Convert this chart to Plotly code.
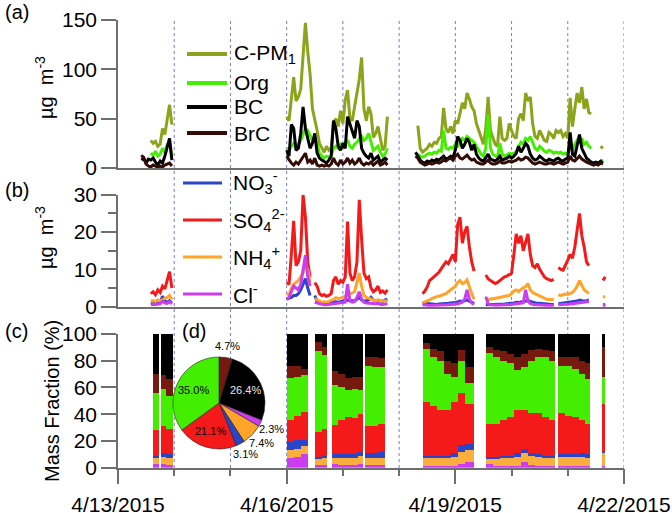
import math
import pandas as pd
import plotly.graph_objects as go

# ---------------- data ----------------
T0 = pd.Timestamp("2015-04-13")
DAYS_TOTAL = 9

# panel (a): hourly values, segments start at these hours after 4/13 00:00
A_SEG_START = [10, 72, 127]
CPM1 = [
    [None, None, None, None, 28, 25, 27, 22, 24, 40, 34, 50, 64, 44],
    [52, 48, 70, 92, 68, 72, 80, 110, 147, 118, 95, 60, 50, 38, 25, 20, 16, 22, 18, 20,
     46, 50, 42, 58, 45, 69, 79, 50, 48, 62, 76, 90, 112, 60, 48, 62, 55, 31, 35, 42,
     30, 18, 22, 52],
    [None, 43, 20, 16, 18, 20, 24, 22, 26, 25, 30, 32, 61, 40, 36, 42, 35, 48, 45, 55, 66,
     60, 76, 70, 62, 58, 45, 38, 30, 24, 40, 72, 38, 30, 24, 22, 52, 30, 28, 30, 45,
     38, 32, 30, 50, 55, 48, 76, 68, 72, 45, 32, 30, 38, 32, 28, 27, 36, 34, 30, 38,
     36, 38, 32, 35, 30, 71, 42, 60, 76, 66, 82, 60, 70, 56, 55, None, None, None, 20, 22],
]
ORG = [
    [None, None, None, None, 15, 13, 17, 12, 14, 20, 16, 24, 25, 12],
    [20, 18, 22, 25, 22, 24, 28, 35, 40, 38, 32, 28, 30, 25, 15, 12, 10, 12, 11, 12,
     20, 22, 20, 24, 20, 25, 28, 22, 20, 24, 26, 30, 32, 28, 30, 35, 26, 18, 20, 22,
     16, 12, 14, 20],
    [None, 14, 12, 11, 12, 14, 15, 14, 16, 15, 18, 17, 38, 20, 19, 21, 20, 24, 22, 26, 30,
     28, 32, 30, 28, 26, 22, 18, 14, 12, 20, 54, 20, 14, 12, 11, 25, 14, 12, 13, 15,
     14, 15, 16, 22, 26, 24, 30, 28, 32, 26, 20, 18, 22, 20, 17, 16, 18, 17, 15, 16,
     15, 16, 14, 15, 14, 22, 18, 24, 28, 26, 30, 24, 26, 22, 20, None, None, None, 8, 7],
]
BC = [
    [8, 10, 5, 9, 8, 10, 6, 3, 7, 5, 12, 22, 30, 8],
    [18, 12, 44, 40, 18, 20, 35, 62, 40, 30, 20, 25, 35, 15, 10, 8, 6, 5, 8, 12,
     48, 40, 22, 18, 25, 20, 52, 45, 38, 30, 48, 42, 20, 15, 12, 10, 15, 8, 10, 12,
     6, 8, 10, 8],
    [16, 12, 8, 6, 5, 7, 6, 8, 7, 9, 8, 10, 12, 9, 10, 12, 11, 18, 32, 28,
     20, 24, 30, 26, 18, 24, 14, 10, 8, 7, 10, 14, 9, 8, 7, 9, 12, 8, 9, 10,
     12, 10, 12, 15, 22, 16, 20, 25, 22, 14, 10, 8, 9, 12, 10, 8, 7, 9, 8, 7,
     9, 10, 8, 7, 9, 10, 36, 14, 12, 22, 34, 20, 14, 10, 8, 6, 5, 6, 5, 7, 5],
]
BRC = [
    [13, 10, 4, 2, 1, 3, 2, 1, 2, 1, 3, 4, 5, 2],
    [12, 8, 5, 3, 6, 4, 8, 12, 15, 6, 8, 4, 10, 3, 2, 3, 2, 3, 2, 4,
     10, 5, 3, 8, 4, 6, 10, 5, 8, 4, 6, 10, 5, 3, 5, 4, 6, 3, 5, 7,
     3, 4, 6, 3],
    [12, 10, 6, 4, 3, 4, 5, 4, 5, 6, 5, 6, 8, 7, 9, 10, 8, 12, 14, 10,
     9, 11, 13, 10, 8, 9, 6, 5, 4, 4, 6, 8, 5, 4, 4, 5, 7, 5, 5, 6,
     7, 6, 7, 8, 10, 8, 9, 11, 10, 7, 5, 4, 5, 6, 5, 4, 4, 5, 5, 4,
     5, 6, 5, 4, 5, 6, 12, 8, 7, 10, 12, 9, 7, 6, 5, 4, 3, 4, 3, 5, 4],
]

# panel (b)
B_SEG_START = [14, 72, 130]
NO3 = [
    [0.8, 0.9, 0.7, 1.0, 1.2, 2.8, 1.5, 1.2, 1.6, 1.0],
    [2.0, 2.2, 2.5, 3.0, 3.0, 3.5, 4.5, 6.0, 7.5, 5.0, 3.0, None, 3.0, 1.5, 1.2, 1.0, 1.0, 0.9, 1.0, 1.2,
     1.4, 1.3, 1.2, 1.4, 1.5, 1.6, 1.8, 1.6, 1.5, 1.6, 2.0, 2.5, 1.8, 1.5, 1.6, 1.8, 2.5, 1.8, 1.6, 1.7,
     1.5, 1.4, 1.8, 2.0],
    [1.0, 0.9, 0.8, 0.7, 0.7, 0.6, 0.6, 0.7, 0.7, 0.8, 0.8, 0.9, 1.0, 1.0, 1.1, 1.3, 1.5, 1.4, 1.6, 1.8,
     1.5, 1.2, 0.9, None, None, None, None, 0.5, 0.5, 0.5, 0.5, 0.6, 0.6, 0.6, 0.7, 0.7, 0.8, 0.8, 0.9, 1.0,
     1.2, 1.1, 1.3, 1.4, 1.5, 1.6, 1.4, 1.2, 1.0, 0.9, 0.9, 0.8, 0.7, 0.7, 0.6, 0.6, 0.6, None, 0.8, 0.9,
     0.9, 1.0, 1.0, 1.1, 1.2, 1.3, 1.5, 1.8, 1.6, 1.5, 1.6, 1.8, None, None, None, None, None, 0.5, 0.5],
]
SO4 = [
    [3.5, 4.0, 3.2, 4.5, 3.8, 5.5, 4.8, 7.0, 9.4, 5.0],
    [6.5, 6.0, 14, 23, 11, 12, 15, 30, 24, 12, 8, None, 6.5, 5.5, 3.5, 3.0, 3.2, 2.8, 3.0, 3.5,
     7.0, 8.0, 6.0, 7.0, 6.5, 8.0, 22.8, 9.0, 7.0, 8.0, 12, 28.6, 18, 9, 7.5, 8.0, 5.0, 4.0, 4.5, 5.5,
     3.8, 4.2, 3.6, 4.5],
    [3.5, 4.2, 5.3, 7.0, 7.5, 8.0, 8.5, 9.2, 10.2, 11.0, 12.0, 11.5, 13.0, 14.0, 12.0, 22.0, 24.0, 17.0, 20.0, 21.5,
     16.0, 12.0, 9.5, None, None, None, None, 8.5, 7.5, 7.0, 6.5, 6.2, 6.5, 7.0, 7.5, 8.0, 8.2, 8.5, 9.0, 14.0,
     19.5, 17.0, 19.0, 15.0, 17.0, 19.5, 14.0, 11.0, 10.5, 11.5, 10.0, 9.0, 8.0, 7.5, 7.2, 7.0, 7.3, None, 10.5, 10.0,
     9.8, 11.0, 12.5, 14.0, 13.0, 16.0, 21.0, 25.0, 19.0, 16.0, 12.0, 11.0, None, None, None, None, None, 7.0, 8.0],
]
NH4 = [
    [1.5, 1.6, 1.4, 1.8, 1.6, 2.0, 2.2, 2.5, 3.0, 2.0],
    [3.5, 3.2, 5.0, 6.0, 6.5, 7.0, 8.0, 9.0, 11.0, 10.0, 6.5, None, 2.2, 1.8, 1.5, 1.2, 1.3, 1.2, 1.4, 1.6,
     2.0, 2.4, 2.2, 2.3, 2.5, 2.8, 3.2, 3.4, 3.8, 4.0, 6.5, 9.0, 5.5, 3.0, 2.5, 2.2, 2.0, 1.8, 1.6, 1.8,
     1.5, 1.4, 1.5, 1.6],
    [1.0, 1.2, 1.5, 1.8, 2.2, 2.5, 2.7, 2.8, 3.0, 3.2, 3.5, 4.0, 4.5, 5.0, 5.5, 6.5, 7.0, 6.2, 6.5, 7.2,
     5.0, 3.5, 2.0, None, None, None, None, 1.8, 1.9, 2.0, 2.0, 2.1, 2.3, 2.5, 2.6, 2.8, 2.8, 3.0, 3.5, 4.2,
     4.5, 4.0, 4.6, 5.0, 5.4, 6.2, 4.5, 3.8, 3.5, 3.2, 3.0, 2.6, 2.2, 2.0, 1.9, 1.8, 1.9, None, 3.2, 3.0,
     3.2, 3.4, 3.3, 3.6, 3.8, 4.5, 5.5, 7.0, 5.5, 4.5, 4.0, 3.6, None, None, None, None, None, 2.7, 2.6],
]
CL = [
    [0.5, 0.6, 0.5, 0.7, 0.8, 1.5, 1.0, 0.9, 1.3, 0.8],
    [2.0, 2.5, 4.0, 5.5, 5.0, 4.5, 6.0, 10.0, 13.8, 8.0, 5.5, None, 1.2, 1.0, 0.8, 0.6, 0.5, 0.5, 0.6, 0.7,
     0.9, 1.0, 0.9, 1.0, 1.1, 1.2, 6.0, 1.5, 1.2, 1.4, 2.5, 4.0, 2.0, 1.2, 1.0, 0.9, 0.8, 0.7, 0.8, 0.9,
     0.6, 0.6, 0.7, 0.8],
    [0.5, 0.4, 0.4, 0.3, 0.3, 0.3, 0.3, 0.4, 0.4, 0.4, 0.5, 0.5, 0.6, 0.6, 0.7, 0.8, 1.0, 1.2, 2.0, 4.5,
     2.0, 1.0, 0.6, None, None, None, None, 2.7, 0.8, 0.5, 0.4, 0.4, 0.4, 0.4, 0.4, 0.5, 0.5, 0.5, 0.6, 0.7,
     0.8, 0.8, 0.9, 1.0, 4.5, 1.5, 0.8, 0.6, 0.5, 0.5, 0.4, 0.4, 0.4, 0.3, 0.3, 0.3, 0.3, None, 0.5, 0.5,
     0.5, 0.6, 0.6, 0.7, 0.8, 0.9, 1.0, 1.2, 1.3, 1.2, 1.3, 1.4, None, None, None, None, None, 0.3, 0.3],
]

# panel (c): mass fraction (%) in averaging blocks (start/end hour after 4/13 00:00)
FR_START = [14.8, 18.2, 20.5, 72, 75, 78, 84.3, 87, 91.3, 94, 97, 100, 102.5, 105.6, 108.5, 111,
            130.1, 133, 136, 139, 142, 145, 148, 157.2, 160, 163, 166, 169, 172, 175, 178, 181, 184,
            187.8, 191, 194, 197, 199.5, 206.6]
FR_END = [17.6, 20.5, 23.3, 75, 78, 81.1, 87, 89.4, 94, 97, 100, 102.5, 104.6, 108.5, 111, 114.1,
          133, 136, 139, 142, 145, 148, 151.9, 160, 163, 166, 169, 172, 175, 178, 181, 184, 186.7,
          191, 194, 197, 199.5, 201.6, 208]
FR_CL = [3, 3, 2, 7, 8, 10, 2, 2, 3, 2, 2, 2, 3, 2, 2, 2,
         1, 1, 1, 1, 1, 3, 4, 3, 1, 1, 1, 1, 4, 2, 1, 1, 1, 1, 1, 1, 1, 1, 1]
FR_NH4 = [4, 5, 5, 6, 6, 6, 5, 5, 4, 5, 5, 5, 6, 5, 5, 5,
          6, 6, 6, 6, 7, 9, 9, 4, 6, 6, 6, 7, 7, 7, 7, 6, 6, 7, 7, 7, 7, 6, 10]
FR_NO3 = [2, 3, 3, 6, 7, 5, 1, 2, 3, 3, 3, 3, 3, 4, 4, 5,
          2, 2, 2, 2, 3, 5, 5, 1, 1, 2, 2, 3, 3, 2, 2, 2, 2, 2, 2, 2, 3, 3, 1]
FR_SO4 = [19, 20, 19, 17, 18, 21, 19, 20, 22, 26, 28, 27, 28, 20, 20, 21,
          40, 37, 34, 34, 38, 39, 30, 25, 25, 27, 29, 32, 29, 30, 31, 29, 27, 31, 29, 28, 25, 23, 36]
FR_ORG = [28, 28, 25, 31, 29, 27, 60, 55, 30, 24, 20, 22, 18, 45, 44, 42,
          40, 37, 37, 27, 19, 24, 15, 53, 50, 44, 40, 30, 32, 39, 42, 45, 44, 35, 37, 36, 34, 33, 20]
FR_BRC = [14, 10, 12, 9, 8, 5, 7, 6, 10, 10, 9, 9, 10, 7, 8, 7,
          4, 6, 7, 10, 10, 8, 12, 4, 5, 7, 7, 10, 10, 8, 6, 5, 7, 7, 7, 9, 10, 12, 22]
FR_BC = [30, 31, 34, 24, 24, 26, 6, 10, 28, 30, 33, 32, 32, 17, 17, 18,
         7, 11, 13, 20, 22, 12, 25, 10, 12, 13, 15, 17, 15, 12, 11, 12, 13, 17, 17, 17, 20, 22, 10]

# panel (d): campaign-average composition (%)
PIE_LABELS = ["BrC", "BC", "Cl", "NH4", "NO3", "SO4", "Org"]
PIE_VALUES = [4.7, 26.4, 2.3, 7.4, 3.1, 21.1, 35.0]

# ---------------- styles ----------------
W, H = 672, 513
FONT = "Liberation Sans, Arial, sans-serif"
AXC = "#6e6e6e"
C_CPM1 = "#8CA41C"
C_ORG = "#44EE00"
C_BC = "#000000"
C_BRC_LINE = "#330B07"
C_BRC = "#761A10"
C_NO3 = "#2B45C8"
C_SO4 = "#F41A1A"
C_NH4 = "#FFA428"
C_CL = "#CC3CF0"
PIE_COLORS = [C_BRC, C_BC, C_CL, C_NH4, C_NO3, C_SO4, C_ORG]


def px(x):
    return x / W


def py(y):
    return 1 - y / H


def tstr(h):
    return (T0 + pd.Timedelta(hours=h)).strftime("%Y-%m-%d %H:%M:%S")


def series(starts, segs):
    xs, ys = [], []
    for s, seg in zip(starts, segs):
        for i, v in enumerate(seg):
            xs.append(tstr(s + i))
            ys.append(v)
        xs.append(None)
        ys.append(None)
    return xs, ys


fig = go.Figure()

# panel (a)
for segs, col in [(CPM1, C_CPM1), (ORG, C_ORG), (BC, C_BC), (BRC, C_BRC_LINE)]:
    xs, ys = series(A_SEG_START, segs)
    fig.add_trace(go.Scatter(x=xs, y=ys, mode="lines", line=dict(color=col, width=3),
                             xaxis="x3", yaxis="y3", showlegend=False, hoverinfo="skip"))

# panel (b)
for segs, col in [(NO3, C_NO3), (SO4, C_SO4), (NH4, C_NH4), (CL, C_CL)]:
    xs, ys = series(B_SEG_START, segs)
    fig.add_trace(go.Scatter(x=xs, y=ys, mode="lines", line=dict(color=col, width=3),
                             xaxis="x2", yaxis="y2", showlegend=False, hoverinfo="skip"))

# panel (c)
mids = [tstr((s + e) / 2) for s, e in zip(FR_START, FR_END)]
widths = [(e - s) * 3600000 for s, e in zip(FR_START, FR_END)]
for vals, col in [(FR_CL, C_CL), (FR_NH4, "#F9AE3E"), (FR_NO3, C_NO3), (FR_SO4, C_SO4),
                  (FR_ORG, C_ORG), (FR_BRC, C_BRC), (FR_BC, C_BC)]:
    fig.add_trace(go.Bar(x=mids, y=vals, width=widths, marker=dict(color=col, line=dict(width=0)),
                         xaxis="x", yaxis="y", showlegend=False, hoverinfo="skip"))

# panel (d) pie
PIE_CX, PIE_CY, PIE_R = 219, 403, 46
fig.add_trace(go.Pie(values=PIE_VALUES, labels=PIE_LABELS, sort=False, direction="clockwise",
                     rotation=0, textinfo="none", hoverinfo="skip", showlegend=False,
                     marker=dict(colors=PIE_COLORS, line=dict(color="#222222", width=0.6)),
                     domain=dict(x=[px(PIE_CX - PIE_R), px(PIE_CX + PIE_R)],
                                 y=[py(PIE_CY + PIE_R), py(PIE_CY - PIE_R)])))

annotations = []
cum = 0
total = sum(PIE_VALUES)
for lab, v in zip(PIE_LABELS, PIE_VALUES):
    mid = (cum + v / 2) / total * 2 * math.pi
    cum += v
    inside = v >= 15
    r = 29 if inside else 58
    ax = PIE_CX + r * math.sin(mid)
    ay = PIE_CY - r * math.cos(mid)
    annotations.append(dict(x=px(ax), y=py(ay), xref="paper", yref="paper", showarrow=False,
                            text=f"{v:.1f}%", font=dict(size=11, family=FONT,
                                                        color="#e8e8e8" if lab == "BC" else "black"),
                            xanchor="center", yanchor="middle"))

# panel labels & titles
for txt, x, y, anc in [("(a)", 3, 12, "left"), ("(b)", 3, 190, "left"), ("(c)", 3, 331, "left"),
                       ("(d)", 180, 331, "left")]:
    annotations.append(dict(x=px(x), y=py(y), xref="paper", yref="paper", showarrow=False, text=txt,
                            xanchor=anc, yanchor="middle", font=dict(size=20, family=FONT, color="black")))
for txt, x, y in [("µg  m<sup>-3</sup>", 44, 88), ("µg  m<sup>-3</sup>", 44, 238),
                  ("Mass Fraction (%)", 52, 401)]:
    annotations.append(dict(x=px(x), y=py(y), xref="paper", yref="paper", showarrow=False, text=txt,
                            textangle=-90, xanchor="center", yanchor="middle",
                            font=dict(size=20, family=FONT, color="black")))

# manual legends
shapes = []
LEG_A = [("C-PM<sub>1</sub>", C_CPM1, 54), ("Org", C_ORG, 83), ("BC", C_BC, 107), ("BrC", C_BRC_LINE, 133)]
for txt, col, y in LEG_A:
    shapes.append(dict(type="line", xref="paper", yref="paper", x0=px(187), x1=px(227), y0=py(y), y1=py(y),
                       line=dict(color=col, width=4)))
    annotations.append(dict(x=px(232), y=py(y), xref="paper", yref="paper", showarrow=False, text=txt,
                            xanchor="left", yanchor="middle", font=dict(size=21, family=FONT, color="black")))
LEG_B = [("NO<sub>3</sub><sup>-</sup>", C_NO3, 183), ("SO<sub>4</sub><sup>2-</sup>", C_SO4, 220),
         ("NH<sub>4</sub><sup>+</sup>", C_NH4, 257), ("Cl<sup>-</sup>", C_CL, 294)]
for txt, col, y in LEG_B:
    shapes.append(dict(type="line", xref="paper", yref="paper", x0=px(183), x1=px(222), y0=py(y), y1=py(y),
                       line=dict(color=col, width=3)))
    annotations.append(dict(x=px(231), y=py(y), xref="paper", yref="paper", showarrow=False, text=txt,
                            xanchor="left", yanchor="middle", font=dict(size=21, family=FONT, color="black")))

# dotted day separators
for d in range(1, DAYS_TOTAL + 1):
    shapes.append(dict(type="line", xref="x", yref="paper", x0=tstr(24 * d), x1=tstr(24 * d),
                       y0=py(468), y1=py(20), layer="below",
                       line=dict(color="#7478E6", width=1, dash="dot")))

XDOM = [px(118), px(624)]
xr = [tstr(0), tstr(24 * DAYS_TOTAL)]
common_y = dict(showline=True, linecolor=AXC, linewidth=1.5, ticks="outside", ticklen=15, tickwidth=1.5,
                tickcolor=AXC, showgrid=False, zeroline=False, tickfont=dict(size=21, family=FONT, color="black"),
                automargin=False)

fig.update_layout(
    width=W, height=H, margin=dict(l=0, r=0, t=0, b=0),
    paper_bgcolor="white", plot_bgcolor="rgba(0,0,0,0)",
    barmode="stack", font=dict(family=FONT, color="black"),
    xaxis=dict(domain=XDOM, anchor="y", type="date", range=xr, showline=True, linecolor=AXC, linewidth=1.5,
               ticks="outside", ticklen=15, tickwidth=1.5, tickcolor=AXC, tick0=tstr(0), dtick=3 * 86400000,
               tickformat="%-m/%-d/%Y", showgrid=False, zeroline=False, automargin=False,
               ticklabelstandoff=2,
               tickfont=dict(size=21, family=FONT, color="black"),
               minor=dict(dtick=86400000, tick0=tstr(0), ticks="outside", ticklen=7, tickwidth=1.5,
                          tickcolor=AXC, showgrid=False)),
    xaxis2=dict(domain=XDOM, anchor="y2", matches="x", type="date", showline=True, linecolor=AXC,
                linewidth=1.5, ticks="", showticklabels=False, showgrid=False, zeroline=False),
    xaxis3=dict(domain=XDOM, anchor="y3", matches="x", type="date", showline=True, linecolor=AXC,
                linewidth=1.5, ticks="", showticklabels=False, showgrid=False, zeroline=False),
    yaxis=dict(domain=[py(467.7), py(334)], anchor="x", range=[0, 100], dtick=20, **common_y),
    yaxis2=dict(domain=[py(306.7), py(194.7)], anchor="x2", range=[0, 30], dtick=10,
                minor=dict(dtick=5, ticks="outside", ticklen=8, tickwidth=1.5, tickcolor=AXC, showgrid=False),
                **common_y),
    yaxis3=dict(domain=[py(168), py(20)], anchor="x3", range=[0, 150], dtick=50, **common_y),
    annotations=annotations, shapes=shapes,
)

fig.write_html("out.html", config={"displayModeBar": False},
               post_script="document.body.style.margin='0px';document.body.style.overflow='hidden';")
